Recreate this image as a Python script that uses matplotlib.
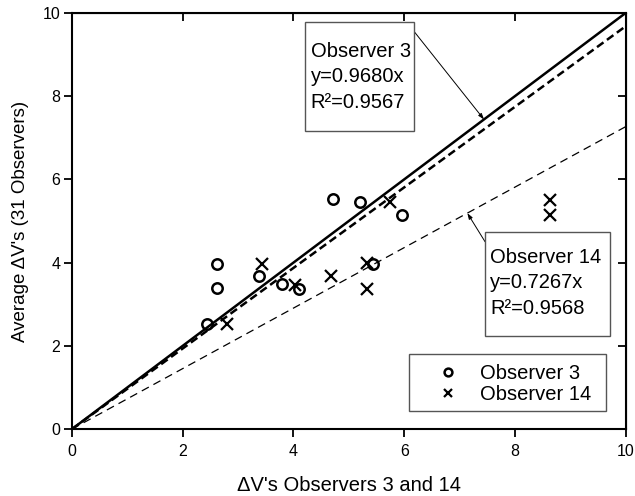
import numpy as np
import matplotlib.pyplot as plt
from matplotlib.patches import Rectangle

plt.rcParams['font.family'] = ['Liberation Sans', 'DejaVu Sans']

# data
obs3_x = [2.44, 2.62, 2.62, 3.38, 3.80, 4.10, 4.71, 5.20, 5.44, 5.96]
obs3_y = [2.53, 3.97, 3.38, 3.68, 3.48, 3.36, 5.53, 5.45, 3.96, 5.14]
obs14_x = [2.80, 3.44, 4.02, 4.68, 5.32, 5.32, 5.75, 8.64, 8.64]
obs14_y = [2.53, 3.97, 3.46, 3.68, 3.98, 3.36, 5.45, 5.50, 5.14]
slope3 = 0.9680
slope14 = 0.7267
r2_3 = 0.9567
r2_14 = 0.9568
ticks = [0, 2, 4, 6, 8, 10]

fig = plt.figure(figsize=(6.35, 4.96), dpi=100)
ax = fig.add_axes([0.1134, 0.135, 0.872, 0.839])

xl = np.array([0, 10])
ax.plot(xl, xl, color='black', lw=1.8)
ax.plot(xl, slope3 * xl, color='black', lw=1.8, ls=(0, (3.2, 1.7)))
ax.plot(xl, slope14 * xl, color='black', lw=0.9, ls=(0, (6.4, 4.2)))

ax.plot(obs3_x, obs3_y, 'o', mfc='none', mec='black', ms=7.5, mew=1.8,
        label='Observer 3')
ax.plot(obs14_x, obs14_y, 'x', color='black', ms=8, mew=1.6,
        label='Observer 14')

ax.set_xlim(0, 10)
ax.set_ylim(0, 10)
ax.set_xticks(ticks)
ax.set_yticks(ticks)
ax.tick_params(direction='out', length=6, width=1.3, labelsize=11.5)
ax.tick_params(axis='x', pad=5)
ax.tick_params(axis='y', pad=2.5)
for s in ax.spines.values():
    s.set_linewidth(1.5)

top = ax.secondary_xaxis('top')
top.set_xticks(ticks)
top.tick_params(direction='in', length=6, width=1.3, labeltop=False)
right = ax.secondary_yaxis('right')
right.set_yticks(ticks)
right.tick_params(direction='in', length=6, width=1.3, labelright=False)

ax.set_xlabel("\u0394V's Observers 3 and 14", fontsize=14.5, labelpad=12)
ax.set_ylabel("Average \u0394V's (31 Observers)", fontsize=13.5, labelpad=10)

# fit annotation boxes
def fit_box(x0, y0, x1, y1, tx, ty, text):
    ax.add_patch(Rectangle((x0, y0), x1 - x0, y1 - y0, transform=ax.transAxes,
                           fc='white', ec='#555555', lw=1, zorder=5))
    ax.text(tx, ty, text, transform=ax.transAxes, fontsize=14.5, va='center',
            ha='left', linespacing=1.45, zorder=6)

fit_box(0.4205, 0.716, 0.618, 0.978, 0.431, 0.846,
        'Observer 3\ny=%.4fx\nR\u00b2=%.4f' % (slope3, r2_3))
fit_box(0.7457, 0.2236, 0.972, 0.4736, 0.7547, 0.351,
        'Observer 14\ny=%.4fx\nR\u00b2=%.4f' % (slope14, r2_14))

arrow = dict(arrowstyle='-|>, head_length=0.35, head_width=0.12',
             color='black', lw=0.7, shrinkA=0, shrinkB=0)
ax.annotate('', xy=(7.44, 7.44), xytext=(6.18, 9.55), arrowprops=arrow)
ax.annotate('', xy=(7.14, slope14 * 7.14), xytext=(7.46, 4.50), arrowprops=arrow)

# legend with a square frame
ax.add_patch(Rectangle((0.609, 0.043), 0.965 - 0.609, 0.180 - 0.043,
                       transform=ax.transAxes, fc='white', ec='#555555', lw=1,
                       zorder=5))
leg = ax.legend(loc='center left', bbox_to_anchor=(0.6253, 0.109), fontsize=14.5,
                frameon=False, markerscale=0.75, handlelength=3.0,
                handletextpad=0.05, borderpad=0, borderaxespad=0,
                labelspacing=0.1)
leg.set_zorder(6)

fig.savefig('out.png', dpi=100)
